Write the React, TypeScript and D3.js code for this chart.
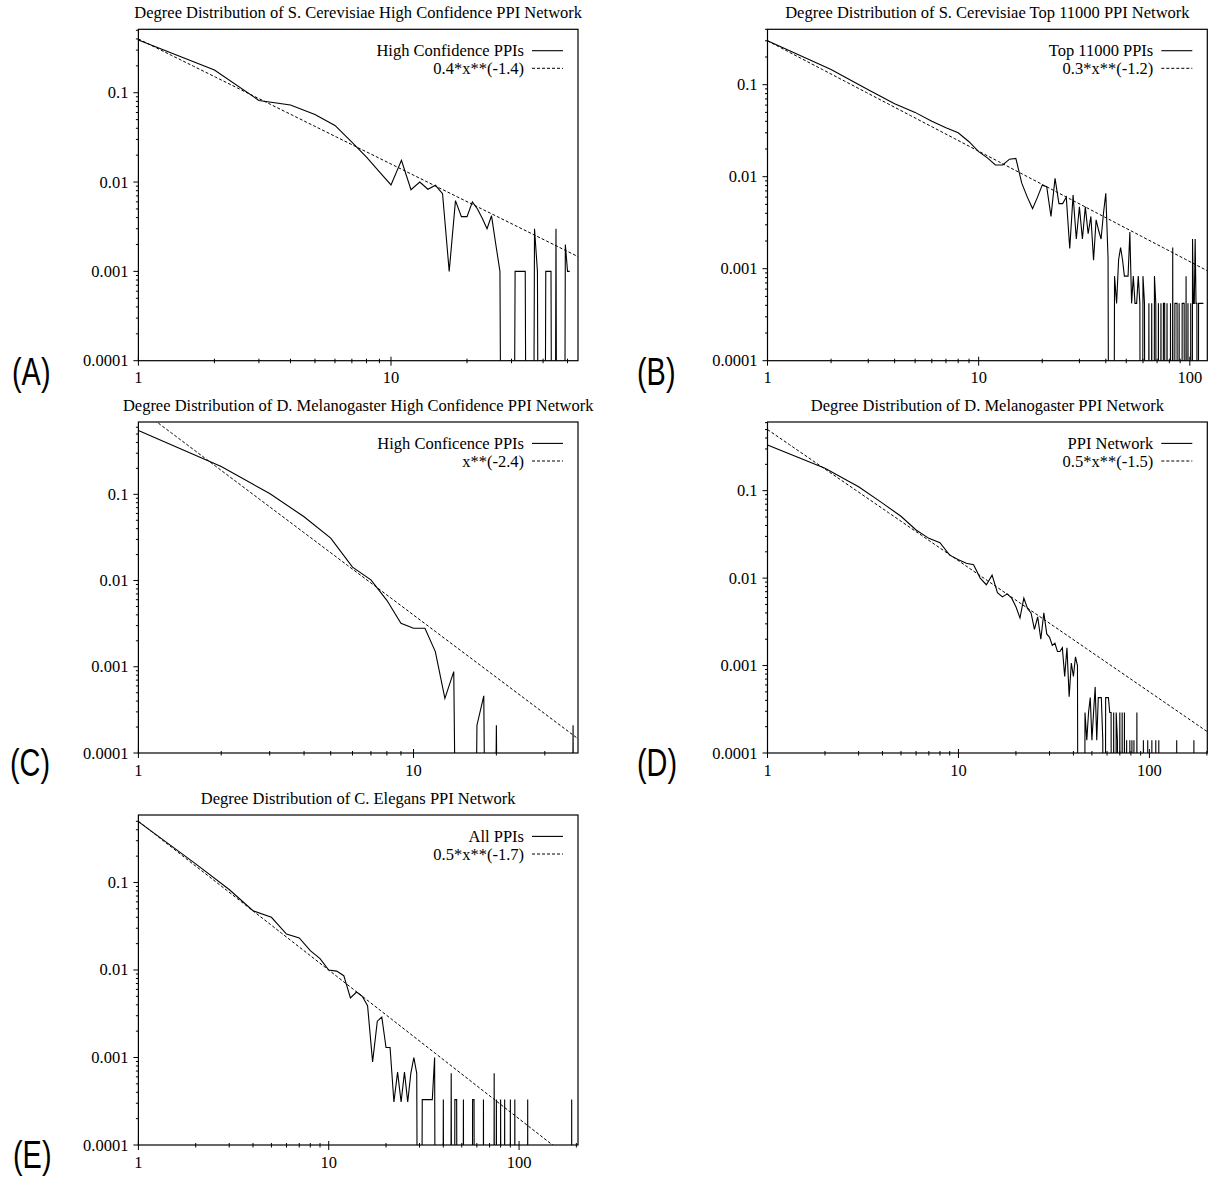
import React from "react";
import * as d3 from "d3";

const SERIF = "'Liberation Serif', 'Times New Roman', serif";
const SANS = "'Liberation Sans', Arial, sans-serif";

const yTickValues = [0.0001, 0.001, 0.01, 0.1];
const yTickLabels = ["0.0001", "0.001", "0.01", "0.1"];
const xTickValues = [1, 10, 100];
const xTickLabels = ["1", "10", "100"];

// (A) S. Cerevisiae high confidence
const titleA = "Degree Distribution of S. Cerevisiae High Confidence PPI Network";
const legendA = ["High Confidence PPIs", "0.4*x**(-1.4)"];
const fitA: [number, number] = [0.4, -1.4];
const headA = [
  0.39, 0.18, 0.082, 0.073, 0.057, 0.043, 0.028, 0.019, 0.013, 0.0093,
  0.0175, 0.0082, 0.01, 0.0083, 0.0092, 0.0074, 0.001, 0.0062, 0.0041, 0.0041,
  0.006, 0.005, 0.0039, 0.003, 0.0042, 0.002, 0.001, 0, 0, 0,
  0.001, 0.001, 0.001, 0.001, 0, 0, 0.003, 0.001, 0, 0,
  0.001, 0.001, 0.001, 0, 0.003, 0, 0, 0, 0.002, 0.001, 0.001,
];
const tailA: [number, number][] = [];
const kMaxA = 51;

// (B) S. Cerevisiae top 11000
const titleB = "Degree Distribution of S. Cerevisiae Top 11000 PPI Network";
const legendB = ["Top 11000 PPIs", "0.3*x**(-1.2)"];
const fitB: [number, number] = [0.3, -1.2];
const headB = [
  0.3, 0.146, 0.088, 0.062, 0.05, 0.04, 0.034, 0.03, 0.024, 0.0187,
  0.016, 0.0134, 0.0134, 0.0155, 0.0158, 0.0085, 0.006, 0.0045, 0.006, 0.0081,
  0.0078, 0.0037, 0.0096, 0.0051, 0.0051, 0.006, 0.00166, 0.0063, 0.0021, 0.0047,
  0.0021, 0.0047, 0.0024, 0.0037, 0.00124, 0.0034, 0.0026, 0.0021, 0.004, 0.0066,
  0.0013,
];
const tailB: [number, number][] = [
  [44, 0.00083], [45, 0.00042], [46, 0.00125], [47, 0.0017], [48, 0.00125], [49, 0.00083],
  [50, 0.00083], [51, 0.00083], [52, 0.0025], [53, 0.00042], [54, 0.00083], [55, 0.00042],
  [56, 0.00042], [57, 0.00083], [58, 0.00042], [60, 0.00083], [61, 0.00042], [64, 0.00042],
  [66, 0.00042], [68, 0.00083], [69, 0.00042], [71, 0.00042], [73, 0.00042], [75, 0.00042],
  [76, 0.00042], [78, 0.00042], [81, 0.00042], [83, 0.0017], [85, 0.00042], [86, 0.00042],
  [87, 0.00042], [89, 0.00042], [92, 0.00042], [93, 0.00042], [94, 0.00042], [96, 0.00083],
  [98, 0.00042], [101, 0.00042], [103, 0.0021], [104, 0.00042], [105, 0.00042], [106, 0.0021],
  [107, 0.00042], [108, 0.00042], [110, 0.00042], [111, 0.00042], [112, 0.00042],
  [113, 0.00042], [114, 0.00042], [115, 0.00042], [116, 0.00042],
];
const kMaxB = 116;

// (C) D. Melanogaster high confidence
const titleC = "Degree Distribution of D. Melanogaster High Confidence PPI Network";
const legendC = ["High Conficence PPIs", "x**(-2.4)"];
const fitC: [number, number] = [1, -2.4];
const headC = [
  0.55, 0.21, 0.102, 0.055, 0.031, 0.0143, 0.0102, 0.0059, 0.0032, 0.0028,
  0.0028, 0.0015, 0.00043, 0.00088,
];
const tailC: [number, number][] = [[17, 0.00021], [18, 0.00046], [20, 0.00021], [38, 0.00021]];
const kMaxC = 39;

// (D) D. Melanogaster
const titleD = "Degree Distribution of D. Melanogaster PPI Network";
const legendD = ["PPI Network", "0.5*x**(-1.5)"];
const fitD: [number, number] = [0.5, -1.5];
const headD = [
  0.333, 0.18, 0.111, 0.072, 0.051, 0.0355, 0.0285, 0.0254, 0.0183, 0.0162,
  0.0148, 0.0142, 0.01, 0.0084, 0.0108, 0.0068, 0.0061, 0.0066, 0.0059, 0.0047,
  0.0035, 0.0059, 0.0045, 0.004, 0.0026, 0.0036, 0.002, 0.004, 0.0023, 0.0021,
  0.0017, 0.0018, 0.00145, 0.00145, 0.0016, 0.00075, 0.0016, 0.00044, 0.00107, 0.00075,
  0.00126, 0.001,
];
const tailD: [number, number][] = [
  [46, 0.00029], [47, 0.00014], [48, 0.00029], [49, 0.00043], [50, 0.00014], [51, 0.00029],
  [52, 0.00057], [53, 0.00014], [54, 0.00043], [55, 0.00043], [56, 0.00043], [57, 0.00014],
  [59, 0.00043], [60, 0.00043], [61, 0.00043], [62, 0.00029], [63, 0.00029], [65, 0.00029],
  [67, 0.00029], [68, 0.00014], [70, 0.00029], [72, 0.00029], [74, 0.00029], [76, 0.00014],
  [79, 0.00014], [81, 0.00014], [83, 0.00014], [86, 0.00029], [93, 0.00014], [98, 0.00014],
  [103, 0.00014], [108, 0.00014], [112, 0.00014], [139, 0.00014], [171, 0.00014],
];
const kMaxD = 172;

// (E) C. Elegans
const titleE = "Degree Distribution of C. Elegans PPI Network";
const legendE = ["All PPIs", "0.5*x**(-1.7)"];
const fitE: [number, number] = [0.5, -1.7];
const headE = [
  0.495, 0.163, 0.083, 0.0475, 0.04, 0.0257, 0.0232, 0.0166, 0.0135, 0.01,
  0.0097, 0.0086, 0.0048, 0.0056, 0.005, 0.0039, 0.00089, 0.0026, 0.0029, 0.0013,
  0.0013, 0.00031, 0.00068, 0.00031, 0.00068, 0.00031, 0.00066, 0.001, 0.00066, 0,
  0.00033, 0.00033, 0.00033, 0.00033, 0.00033, 0.001,
];
const tailE: [number, number][] = [
  [40, 0.00033], [44, 0.00066], [46, 0.00033], [47, 0.00033], [51, 0.00033], [57, 0.00033],
  [58, 0.00033], [65, 0.00033], [74, 0.00066], [76, 0.00033], [80, 0.00033], [84, 0.00033],
  [90, 0.00033], [95, 0.00033], [111, 0.00033], [189, 0.00033],
];
const kMaxE = 190;

function buildSeries(head: number[], tail: [number, number][], kMax: number): [number, number][] {
  const extra = new Map(tail);
  const out: [number, number][] = [];
  for (let k = 1; k <= kMax; k++) {
    out.push([k, k <= head.length ? head[k - 1] : extra.get(k) ?? 0]);
  }
  return out;
}

type PanelSpec = {
  id: string;
  title: string;
  legend: string[];
  data: [number, number][];
  fit: [number, number];
  xMax: number;
  yMax: number;
  l: number; r: number; t: number; b: number;
  lx: number; ly: number;
};

const panels: PanelSpec[] = [
  { id: "A", title: titleA, legend: legendA, data: buildSeries(headA, tailA, kMaxA), fit: fitA,
    xMax: 55, yMax: 0.513, l: 138.4, r: 578, t: 29.3, b: 360.7, lx: 12, ly: 385 },
  { id: "B", title: titleB, legend: legendB, data: buildSeries(headB, tailB, kMaxB), fit: fitB,
    xMax: 121, yMax: 0.4, l: 767.5, r: 1207.3, t: 29.3, b: 360.7, lx: 637, ly: 385 },
  { id: "C", title: titleC, legend: legendC, data: buildSeries(headC, tailC, kMaxC), fit: fitC,
    xMax: 39.6, yMax: 0.69, l: 138.4, r: 578, t: 422, b: 753, lx: 10, ly: 776 },
  { id: "D", title: titleD, legend: legendD, data: buildSeries(headD, tailD, kMaxD), fit: fitD,
    xMax: 201, yMax: 0.61, l: 767.5, r: 1207.3, t: 422, b: 753, lx: 637, ly: 776 },
  { id: "E", title: titleE, legend: legendE, data: buildSeries(headE, tailE, kMaxE), fit: fitE,
    xMax: 204, yMax: 0.59, l: 138.4, r: 578, t: 815, b: 1145, lx: 13, ly: 1168 },
];

const FS = 16.5;

function Panel({ p }: { p: PanelSpec }) {
  const x = d3.scaleLog().domain([1, p.xMax]).range([p.l, p.r]);
  const y = d3.scaleLog().domain([0.0001, p.yMax]).range([p.b, p.t]);
  const FLOOR = 1e-12;
  const line = d3
    .line<[number, number]>()
    .x((d) => x(d[0]))
    .y((d) => y(Math.max(d[1], FLOOR)));
  const fitPts: [number, number][] = d3.range(0, 41).map((i) => {
    const k = Math.pow(p.xMax, i / 40);
    return [k, p.fit[0] * Math.pow(k, p.fit[1])];
  });
  const yMinor: number[] = [];
  for (let e = -4; e < 0; e++)
    for (let m = 2; m <= 9; m++) {
      const v = m * Math.pow(10, e);
      if (v <= p.yMax) yMinor.push(v);
    }
  const xMinor: number[] = [];
  for (let e = 0; e < 3; e++)
    for (let m = 2; m <= 9; m++) {
      const v = m * Math.pow(10, e);
      if (v <= p.xMax) xMinor.push(v);
    }
  const clipId = "clip" + p.id;
  const legendRow = (i: number) => p.t + 21.4 + i * 17.6;
  return (
    <g>
      <defs>
        <clipPath id={clipId}>
          <rect x={p.l} y={p.t} width={p.r - p.l} height={p.b - p.t} />
        </clipPath>
      </defs>
      <text x={(p.l + p.r) / 2} y={p.t - 11} textAnchor="middle" fontFamily={SERIF} fontSize={FS}>
        {p.title}
      </text>
      {/* ticks */}
      {yMinor.map((v, i) => (
        <line key={"ym" + i} x1={p.l - 2.5} x2={p.l} y1={y(v)} y2={y(v)} stroke="#000" strokeWidth={1} />
      ))}
      {yTickValues.map((v, i) => (
        <g key={"yt" + i}>
          <line x1={p.l - 5} x2={p.l} y1={y(v)} y2={y(v)} stroke="#000" strokeWidth={1} />
          <text x={p.l - 10} y={y(v) + 5.5} textAnchor="end" fontFamily={SERIF} fontSize={FS}>
            {yTickLabels[i]}
          </text>
        </g>
      ))}
      {xMinor.map((v, i) => (
        <line key={"xm" + i} x1={x(v)} x2={x(v)} y1={p.b - 2} y2={p.b + 2.5} stroke="#000" strokeWidth={1} />
      ))}
      {xTickValues.map((v, i) =>
        v <= p.xMax ? (
          <g key={"xt" + i}>
            <line x1={x(v)} x2={x(v)} y1={p.b - 4} y2={p.b + 5} stroke="#000" strokeWidth={1} />
            <text x={x(v)} y={p.b + 22.5} textAnchor="middle" fontFamily={SERIF} fontSize={FS}>
              {xTickLabels[i]}
            </text>
          </g>
        ) : null
      )}
      <g clipPath={`url(#${clipId})`}>
        <path d={line(fitPts) || ""} fill="none" stroke="#000" strokeWidth={1} strokeDasharray="3,2" />
        <path d={line(p.data) || ""} fill="none" stroke="#000" strokeWidth={1.1} strokeLinejoin="miter" />
      </g>
      <rect x={p.l} y={p.t} width={p.r - p.l} height={p.b - p.t} fill="none" stroke="#000" strokeWidth={1.2} />
      {/* legend */}
      {p.legend.map((s, i) => (
        <g key={"lg" + i}>
          <text x={p.r - 54} y={legendRow(i) + 5.5} textAnchor="end" fontFamily={SERIF} fontSize={FS}>
            {s}
          </text>
          <line
            x1={p.r - 46}
            x2={p.r - 15}
            y1={legendRow(i)}
            y2={legendRow(i)}
            stroke="#000"
            strokeWidth={i === 0 ? 1.1 : 1}
            strokeDasharray={i === 0 ? undefined : "3,2"}
          />
        </g>
      ))}
      <text
        transform={`translate(${p.lx},${p.ly}) scale(0.76,1)`}
        fontFamily={SANS}
        fontSize={38}
      >
        ({p.id})
      </text>
    </g>
  );
}

export default function App() {
  return (
    <svg
      width={1214}
      height={1177}
      viewBox="0 0 1214 1177"
      style={{ position: "absolute", left: 0, top: 0, background: "#fff" }}
    >
      <rect x={0} y={0} width={1214} height={1177} fill="#fff" />
      {panels.map((p) => (
        <Panel key={p.id} p={p} />
      ))}
    </svg>
  );
}
